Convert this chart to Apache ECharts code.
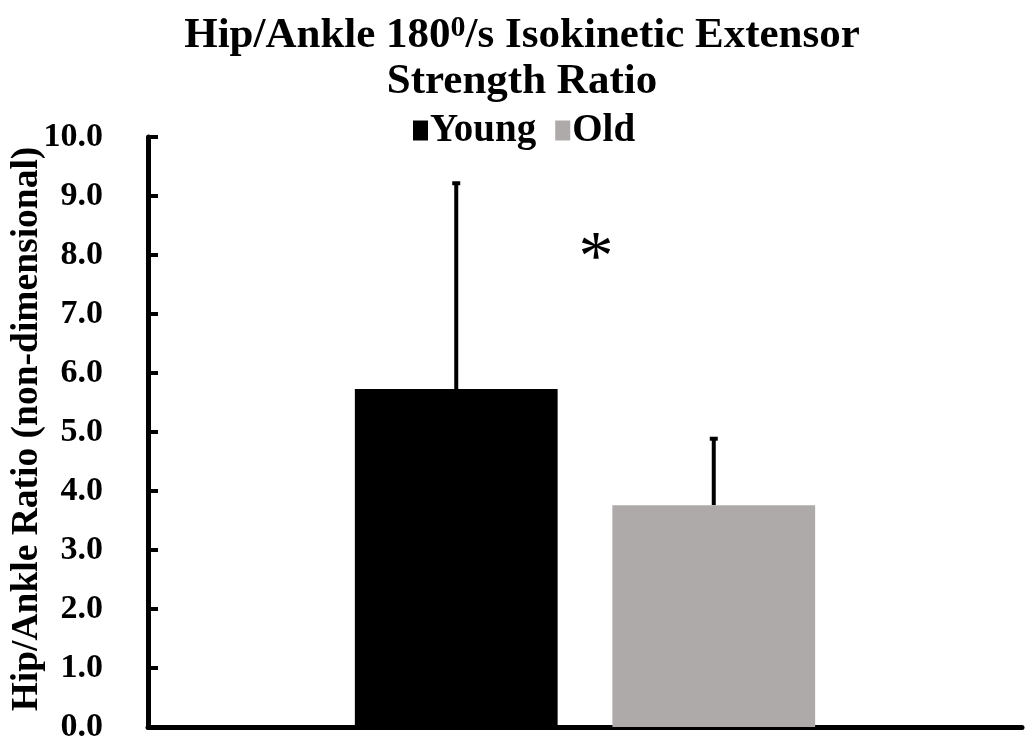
<!DOCTYPE html>
<html>
<head>
<meta charset="utf-8">
<script src="https://cdn.jsdelivr.net/npm/echarts@6/dist/echarts.min.js"></script>
<style>
html,body{margin:0;padding:0;background:#fff;}
#chart{width:1026px;height:742px;}
</style>
</head>
<body>
<div id="chart"></div>
<script>
// ---- data ----
const categories = ['Hip/Ankle'];
const seriesNames = ['Young', 'Old'];
const youngMean = [5.73];
const youngErrTop = [9.25];
const oldMean = [3.76];
const oldErrTop = [4.92];
const yTicks = [0, 1, 2, 3, 4, 5, 6, 7, 8, 9, 10];
const significanceLevel = [8.1];
const significanceMark = '*';

const FONT = "'Liberation Serif', 'Times New Roman', serif";
const BAR_W = 0.232;   // fraction of band
const BAR_GAP = 0.27;  // fraction of bar width

const chart = echarts.init(document.getElementById('chart'));

function errRender(sign) {
  return function (params, api) {
    const band = api.size([1, 0])[0];
    const bw = band * BAR_W;
    const off = sign * (bw + bw * BAR_GAP) / 2;
    const base = api.coord([api.value(0), api.value(1)]);
    const top = api.coord([api.value(0), api.value(2)]);
    const x = base[0] + off;
    return {
      type: 'group',
      children: [
        { type: 'line', shape: { x1: x, y1: base[1], x2: x, y2: top[1] + 2 },
          style: { stroke: '#000', lineWidth: 4 } },
        { type: 'line', shape: { x1: x - 4, y1: top[1] + 2, x2: x + 4, y2: top[1] + 2 },
          style: { stroke: '#000', lineWidth: 4 } }
      ]
    };
  };
}

const option = {
  animation: false,
  backgroundColor: '#fff',
  title: {
    left: 522,
    top: 13,
    padding: 0,
    textAlign: 'center',
    text: 'Hip/Ankle 180{sup|0}/s Isokinetic Extensor\nStrength Ratio',
    textStyle: {
      fontFamily: FONT, fontWeight: 'bold', fontSize: 43, color: '#000', lineHeight: 46,
      rich: {
        sup: { fontFamily: FONT, fontWeight: 'bold', fontSize: 30, verticalAlign: 'top', lineHeight: 46, padding: [0, 0, 16, 0] }
      }
    }
  },
  legend: {
    top: 106,
    left: 413,
    padding: [5, 0, 5, 0],
    itemWidth: 15,
    itemHeight: 20,
    itemGap: 19,
    textStyle: { fontFamily: FONT, fontWeight: 'bold', fontSize: 39, color: '#000', padding: [0, 0, 0, -3] },
    data: seriesNames.map(n => ({ name: n, icon: 'rect' }))
  },
  grid: { left: 148, right: 4, top: 137, bottom: 15, containLabel: false, outerBoundsMode: 'none' },
  xAxis: {
    type: 'category',
    data: categories,
    axisLine: { lineStyle: { color: '#000', width: 5 } },
    axisTick: { show: false },
    axisLabel: { show: false },
    splitLine: { show: false }
  },
  yAxis: {
    type: 'value',
    min: yTicks[0],
    max: yTicks[yTicks.length - 1],
    interval: 1,
    name: 'Hip/Ankle Ratio (non-dimensional)',
    nameLocation: 'middle',
    nameGap: 102,
    nameMoveOverlap: false,
    nameTextStyle: { fontFamily: FONT, fontWeight: 'bold', fontSize: 37.5, color: '#000', padding: [0, 0, 0, 6] },
    axisLine: { show: true, lineStyle: { color: '#000', width: 5 } },
    axisTick: { show: true, inside: true, length: 10, lineStyle: { color: '#000', width: 4 } },
    axisLabel: {
      fontFamily: FONT, fontWeight: 'bold', fontSize: 34, color: '#000', margin: 45,
      formatter: v => v.toFixed(1)
    },
    splitLine: { show: false }
  },
  series: [
    {
      name: seriesNames[0], type: 'bar', data: youngMean,
      barWidth: (BAR_W * 100) + '%', barGap: (BAR_GAP * 100) + '%',
      itemStyle: { color: '#000' }, z: 2
    },
    {
      name: seriesNames[1], type: 'bar', data: oldMean,
      barWidth: (BAR_W * 100) + '%', barGap: (BAR_GAP * 100) + '%',
      itemStyle: { color: '#AEAAAA' }, z: 2
    },
    {
      type: 'custom', name: 'errYoung', renderItem: errRender(-1), z: 1,
      data: categories.map((c, i) => [i, youngMean[i], youngErrTop[i]]),
      silent: true
    },
    {
      type: 'custom', name: 'errOld', renderItem: errRender(1), z: 1,
      data: categories.map((c, i) => [i, oldMean[i], oldErrTop[i]]),
      silent: true
    }
  ]
};
chart.setOption(option);

const p = chart.convertToPixel({ gridIndex: 0 }, [0, significanceLevel[0]]);
chart.setOption({
  graphic: [{
    type: 'text',
    x: p[0] + 11, y: p[1] + 12,
    style: {
      text: significanceMark, fontFamily: FONT, fontWeight: 'normal', fontSize: 70,
      fill: '#000', align: 'center', verticalAlign: 'middle'
    }
  }]
});
</script>
</body>
</html>
